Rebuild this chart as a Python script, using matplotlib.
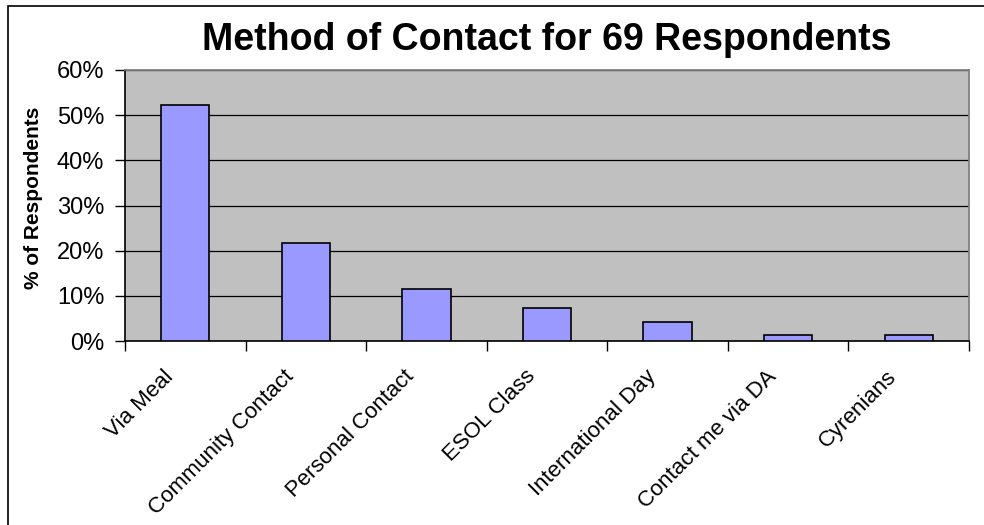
import matplotlib
matplotlib.use("Agg")
import matplotlib.pyplot as plt
from matplotlib.patches import Rectangle
from matplotlib.ticker import FuncFormatter, MultipleLocator
from matplotlib.transforms import ScaledTranslation

plt.rcParams['font.family'] = ['Liberation Sans', 'DejaVu Sans']

categories = ["Via Meal", "Community Contact", "Personal Contact", "ESOL Class",
              "International Day", "Contact me via DA", "Cyrenians"]
values = [52.2, 21.7, 11.6, 7.2, 4.3, 1.4, 1.4]
title = "Method of Contact for 69 Respondents"
ylabel = "% of Respondents"

W, H = 984, 525
fig = plt.figure(figsize=(W / 100, H / 100), dpi=100)
fig.patch.set_facecolor('white')

# figure border (left and top visible)
fig.add_artist(Rectangle((8 / W, -0.1), 1.2, (H - 6) / H + 0.1, transform=fig.transFigure,
                         fill=False, edgecolor='black', linewidth=1.2))

left, right, top, bottom = 125, 969, 70, 341
ax = fig.add_axes([left / W, 1 - bottom / H, (right - left) / W, (bottom - top) / H])
ax.set_facecolor('#C0C0C0')

x = list(range(len(categories)))
ax.bar(x, values, width=0.4, color='#9999FF', edgecolor='black', linewidth=1.2, zorder=3)

ax.set_xlim(-0.5, len(categories) - 0.5)
ax.set_ylim(0, 60)
ax.yaxis.set_major_locator(MultipleLocator(10))
ax.yaxis.set_major_formatter(FuncFormatter(lambda v, p: f"{int(round(v))}%"))
ax.grid(axis='y', color='black', linewidth=0.9, zorder=1)
ax.set_axisbelow(True)

ax.set_xticks([i - 0.5 for i in range(len(categories) + 1)], minor=False)
ax.set_xticklabels([])
ax.set_xticks(x, minor=True)
ax.set_xticklabels(categories, minor=True, rotation=45, ha='right', va='center',
                   rotation_mode='anchor', fontsize=16)
ax.tick_params(axis='x', which='minor', length=0, pad=14)
ax.tick_params(axis='x', which='major', length=7, width=1, color='black', direction='out')
ax.tick_params(axis='y', length=7, width=1, direction='out', labelsize=17, pad=8)

offset = ScaledTranslation(-15 / 100, -13 / 100, fig.dpi_scale_trans)
for lab in ax.get_xticklabels(minor=True):
    lab.set_transform(lab.get_transform() + offset)

for s in ['top', 'right']:
    ax.spines[s].set_color('#808080')
    ax.spines[s].set_linewidth(1.3)
for s in ['left', 'bottom']:
    ax.spines[s].set_color('black')
    ax.spines[s].set_linewidth(1.2)

fig.text(547 / W, 1 - 40 / H, title, ha='center', va='center', fontsize=27, fontweight='bold')
fig.text(34 / W, 1 - 198 / H, ylabel, ha='center', va='center', rotation=90,
         fontsize=15, fontweight='bold')

fig.savefig('out.png', dpi=100)
